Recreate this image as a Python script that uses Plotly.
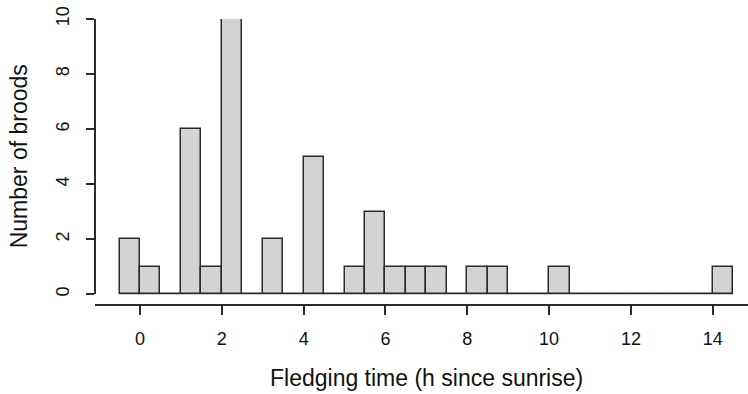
import numpy as np
import plotly.graph_objects as go

# Histogram data: bins of 0.5 h starting at -0.5 h
bin_start = -0.5
bin_width = 0.5
counts = [2, 1, 0, 6, 1, 10, 0, 2, 0, 5,
          0, 1, 3, 1, 1, 1, 0, 1, 1, 0,
          0, 1, 0, 0, 0, 0, 0, 0, 0, 1]
x_ticks = [0, 2, 4, 6, 8, 10, 12, 14]
y_ticks = [0, 2, 4, 6, 8, 10]
x_title = "Fledging time (h since sunrise)"
y_title = "Number of broods"

edges = bin_start + bin_width * np.arange(len(counts) + 1)
centers = (edges[:-1] + edges[1:]) / 2
# R-style 4% extended x range (right part is cropped in the picture)
span = edges[-1] - edges[0]
xlim = (edges[0] - 0.04 * span, edges[-1] + 0.04 * span)

FONT = "Liberation Sans, Arial, sans-serif"
LINE = "#2b2b2b"
TXT = "#111111"

fig = go.Figure()
# baseline for empty bins (as in R's hist)
fig.add_trace(go.Scatter(x=[edges[0], edges[-1]], y=[0, 0], mode="lines",
                         line=dict(color=LINE, width=1.5), hoverinfo="skip",
                         showlegend=False, cliponaxis=False))
fig.add_trace(go.Bar(x=centers, y=counts, width=bin_width,
                     marker=dict(color="#d3d3d3", line=dict(color=LINE, width=1.5)),
                     showlegend=False, cliponaxis=False))

W, H = 748, 394
left = 95
top = 19.3
xline_y = 305.5
zero_y = 294.7
b = H - xline_y
plot_h = H - top - b
plot_w = W - left
ydom_low = (xline_y - zero_y) / plot_h
px_per_unit = 40.91
x_right = xlim[0] + plot_w / px_per_unit

fig.update_layout(
    width=W, height=H,
    margin=dict(l=left, r=0, t=top, b=b),
    plot_bgcolor="white", paper_bgcolor="white",
    bargap=0,
    font=dict(family=FONT, color=TXT),
    xaxis=dict(range=[xlim[0], x_right], anchor="free", position=0,
               tickmode="array", tickvals=x_ticks,
               showline=True, linecolor=LINE, linewidth=1.5,
               ticks="outside", ticklen=9.5, tickwidth=1.5, tickcolor=LINE,
               showgrid=False, zeroline=False,
               tickfont=dict(size=18, family=FONT, color=TXT),
               ticklabelstandoff=8),
    yaxis=dict(range=[0, 10], domain=[ydom_low, 1], anchor="free", position=0,
               tickmode="array", tickvals=y_ticks, tickangle=-90,
               showline=True, linecolor=LINE, linewidth=1.5,
               ticks="outside", ticklen=8.5, tickwidth=1.5, tickcolor=LINE,
               showgrid=False, zeroline=False,
               tickfont=dict(size=18, family=FONT, color=TXT),
               ticklabelstandoff=10),
    annotations=[
        dict(text=x_title, xref="x", x=(xlim[0] + xlim[1]) / 2,
             yref="paper", y=(xline_y - 379) / plot_h,
             xanchor="center", yanchor="middle", showarrow=False,
             font=dict(size=23, family=FONT, color=TXT)),
        dict(text=y_title, textangle=-90, xref="paper", x=(18.7 - left) / plot_w,
             yref="y", y=5, xanchor="center", yanchor="middle", showarrow=False,
             font=dict(size=23, family=FONT, color=TXT)),
    ],
)

fig.write_html("out.html")
